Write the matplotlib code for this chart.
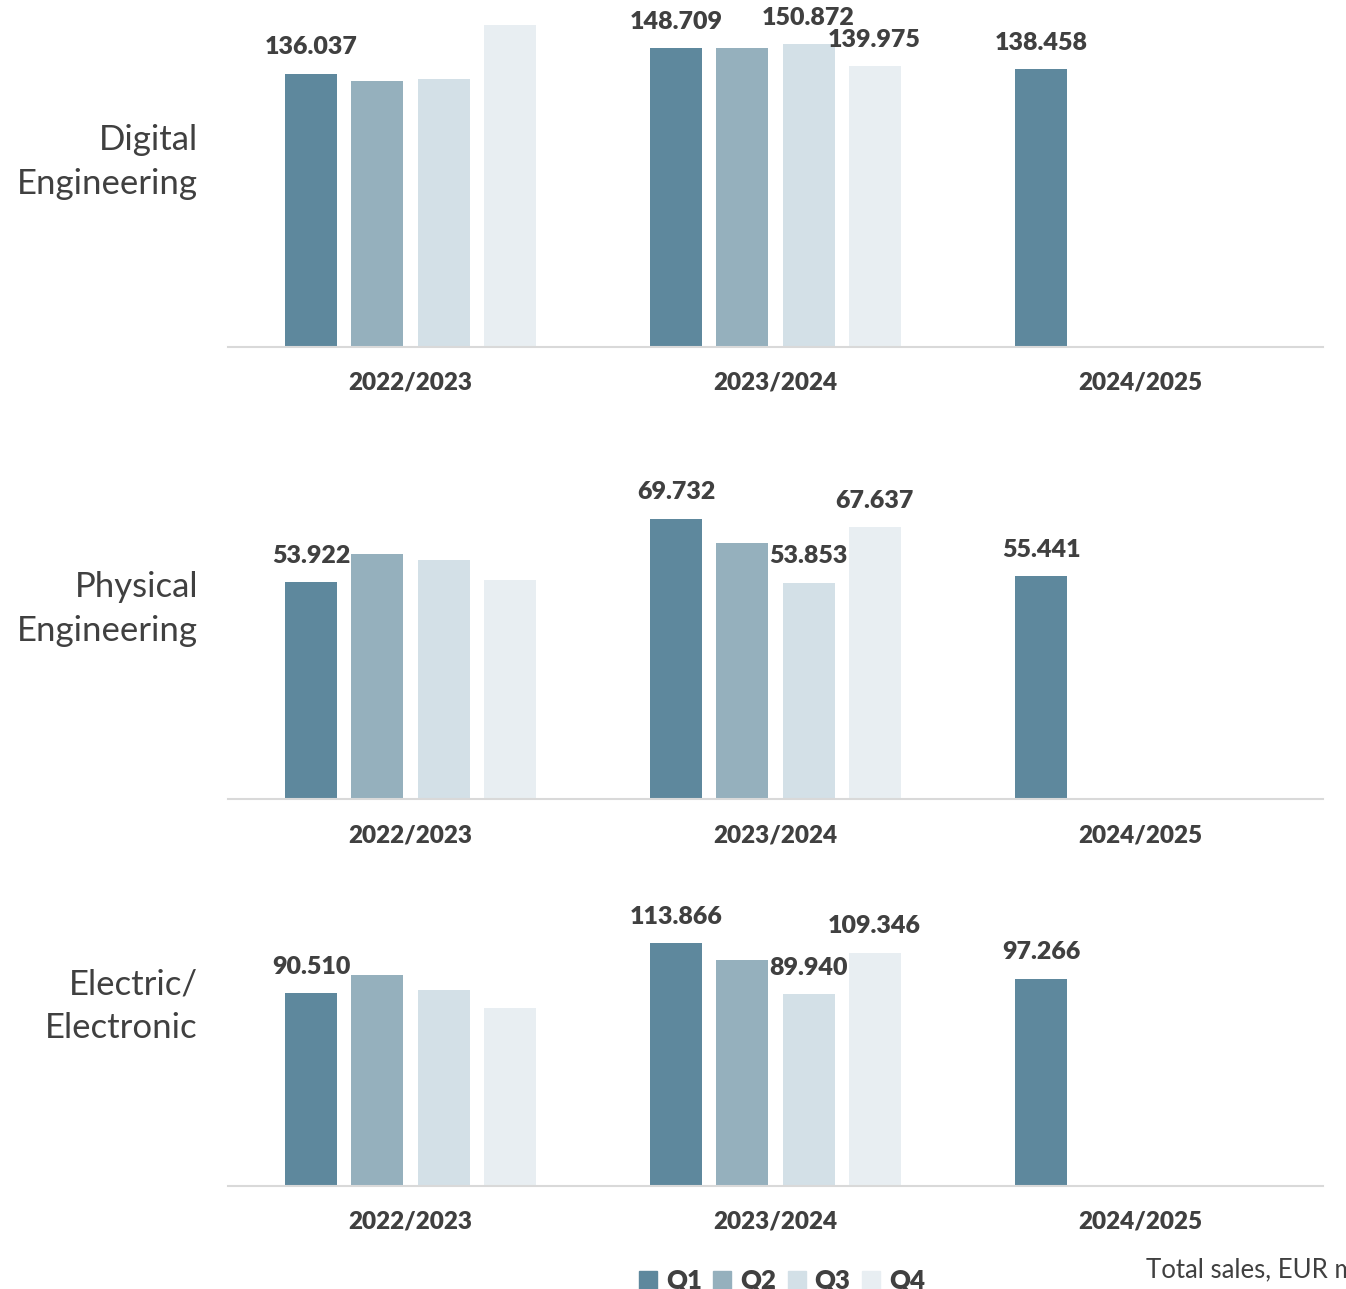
import matplotlib
matplotlib.use("Agg")
import matplotlib.pyplot as plt
from matplotlib.patches import Patch
import numpy as np

plt.rcParams['font.family'] = ['Lato', 'DejaVu Sans']

years = ["2022/2023", "2023/2024", "2024/2025"]
quarters = ["Q1", "Q2", "Q3", "Q4"]
segments = ["Digital\nEngineering", "Physical\nEngineering", "Electric/\nElectronic"]

# values per quarter, one entry per fiscal year (missing quarters left out)
digital = [[136.037, 148.709, 138.458], [132.5, 148.9], [133.5, 150.872], [160.4, 139.975]]
physical = [[53.922, 69.732, 55.441], [60.9, 63.7], [59.5, 53.853], [54.5, 67.637]]
electric = [[90.510, 113.866, 97.266], [99.0, 106.0], [92.0, 89.940], [83.5, 109.346]]

# which bars carry a data label
labelled = [[True, True, True], [False, False], [False, True], [False, True]]

colors = ["#5E889D", "#95B0BD", "#D3E0E7", "#E8EEF2"]
txt = "#404040"

W, H = 1346, 1289
fig = plt.figure(figsize=(W / 100, H / 100), dpi=100)

# (top px, baseline px, ymax, label centre px)
panels = [(0, 347, 172.8, 162), (420, 799, 94.3, 609), (880, 1186, 143.5, 1006)]
data = [digital, physical, electric]

x0, x1 = 228, 1323
pitch, width = 0.181, 0.1425

for (top, base, ymax, lab_y), vals, seg in zip(panels, data, segments):
    ax = fig.add_axes([x0 / W, 1 - base / H, (x1 - x0) / W, (base - top) / H])
    for q in range(4):
        v = vals[q]
        xs = np.arange(len(v)) + (q - 1.5) * pitch
        ax.bar(xs, v, width=width, color=colors[q], zorder=2)
        for xi, vi, lb in zip(xs, v, labelled[q]):
            if lb:
                ax.annotate(f"{vi:.3f}", (xi, vi), xytext=(0, 19), textcoords="offset points",
                            ha="center", va="center", fontsize=18, fontweight="heavy", color=txt)
    ax.set_xlim(-0.5, 2.5)
    ax.set_ylim(0, ymax)
    ax.set_xticks(range(3))
    ax.set_xticklabels(years, fontsize=17.5, fontweight="heavy", color=txt)
    ax.tick_params(axis="x", length=0, pad=18)
    ax.set_yticks([])
    for s in ["top", "right", "left"]:
        ax.spines[s].set_visible(False)
    ax.spines["bottom"].set_color("#D9D9D9")
    ax.spines["bottom"].set_linewidth(1.5)
    fig.text(198 / W, 1 - lab_y / H, seg, ha="right", va="center", fontsize=25,
             color=txt, linespacing=1.45)

handles = [Patch(color=c) for c in colors]
leg = fig.legend(handles, quarters, loc="center", bbox_to_anchor=(782 / W, 1 - 1281 / H),
                 ncol=4, frameon=False, handlelength=0.7, handleheight=0.7,
                 handletextpad=0.35, columnspacing=0.45, prop={"size": 18.5, "weight": "heavy"})
for t in leg.get_texts():
    t.set_color(txt)

fig.text(1146 / W, 1 - 1270 / H, "Total sales, EUR m", ha="left", va="center",
         fontsize=18.5, color=txt)

fig.savefig("out.png", dpi=100)
